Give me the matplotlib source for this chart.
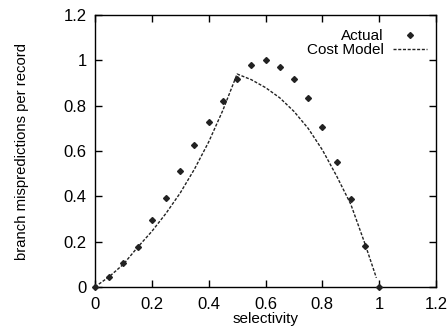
import matplotlib.pyplot as plt
from matplotlib.ticker import FormatStrFormatter

# measured points
sel = [0.0, 0.05, 0.1, 0.15, 0.2, 0.25, 0.3, 0.35, 0.4, 0.45, 0.5,
       0.55, 0.6, 0.65, 0.7, 0.75, 0.8, 0.85, 0.9, 0.95, 1.0]
actual = [0.0, 0.044, 0.106, 0.178, 0.297, 0.393, 0.512, 0.625, 0.726, 0.822, 0.918,
          0.981, 1.0, 0.970, 0.916, 0.832, 0.706, 0.553, 0.387, 0.182, 0.0]

# cost model curve
model_x = [0.0, 0.05, 0.1, 0.15, 0.2, 0.25, 0.3, 0.35, 0.4, 0.45, 0.5,
           0.55, 0.6, 0.65, 0.7, 0.75, 0.8, 0.85, 0.9, 0.95, 0.99]
model_y = [0.0, 0.045, 0.100, 0.175, 0.245, 0.325, 0.415, 0.520, 0.640, 0.780, 0.940,
           0.915, 0.880, 0.835, 0.775, 0.700, 0.605, 0.490, 0.365, 0.190, 0.040]

plt.rcParams['font.family'] = ['Liberation Sans', 'DejaVu Sans']

fig = plt.figure(figsize=(4.47, 3.29), dpi=100)
ax = fig.add_axes([0.2125, 0.128, 0.763, 0.826])

ax.plot(sel, actual, linestyle='none', marker='D', markersize=3.0,
        color='#222222', label='Actual', clip_on=False, zorder=3)
ax.plot(model_x, model_y, linestyle=(0, (2.2, 1.2)), linewidth=1.0,
        color='#222222', label='Cost Model')

ax.set_xlim(0, 1.2)
ax.set_ylim(0, 1.2)
ax.set_xticks([0, 0.2, 0.4, 0.6, 0.8, 1.0, 1.2])
ax.set_yticks([0, 0.2, 0.4, 0.6, 0.8, 1.0, 1.2])
ax.xaxis.set_major_formatter(FormatStrFormatter('%g'))
ax.yaxis.set_major_formatter(FormatStrFormatter('%g'))
ax.tick_params(direction='in', top=True, right=True, length=5, width=1,
               labelsize=12)
ax.tick_params(axis='x', pad=7)
ax.tick_params(axis='y', pad=6)
for s in ax.spines.values():
    s.set_linewidth(1.0)

ax.set_xlabel('selectivity', fontsize=11, labelpad=0)
ax.set_ylabel('branch mispredictions per record', fontsize=10.7, labelpad=25)

ax.legend(loc='upper right', frameon=False, markerfirst=False, fontsize=11,
          handlelength=2.2, handletextpad=0.6, labelspacing=0.0,
          borderaxespad=0.0, bbox_to_anchor=(0.99, 0.972))

fig.savefig('out.png', dpi=100)
